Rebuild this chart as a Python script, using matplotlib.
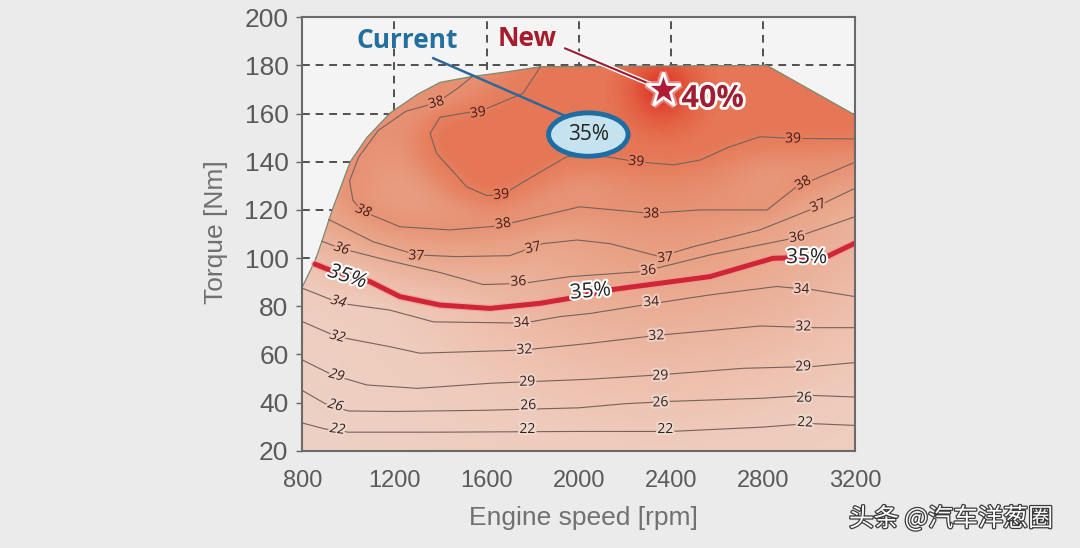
import matplotlib
matplotlib.use("Agg")
import matplotlib.pyplot as plt, numpy as np
from matplotlib import font_manager, patheffects as pe
from matplotlib.colors import LinearSegmentedColormap, Normalize
from matplotlib.patches import Polygon, Ellipse
from matplotlib.path import Path

# full load curve (rpm, Nm)
wot_rpm = [800, 856, 887, 930, 1008, 1080, 1182, 1300, 1399, 1530, 1700, 1833, 2818, 3200]
wot_tq = [88, 99, 107.5, 120, 140, 150, 160.3, 168, 173, 175.3, 177.5, 179.5, 180, 159.4]

# thermal efficiency contours, (rpm, Nm)
c22 = [(800, 31.5), (900, 29.0), (1000, 27.7), (1400, 27.7), (2000, 28.0), (2400, 28.0),
       (2800, 29.8), (3000, 31.3), (3200, 30.5)]
c26 = [(800, 45), (900, 39.5), (1000, 36.5), (1200, 36.3), (1600, 36.8), (2000, 37.8),
       (2200, 39.5), (2400, 40.5), (2800, 41.8), (3000, 43), (3200, 42.3)]
c29 = [(800, 57.7), (930, 51.5), (1080, 47.3), (1300, 45.9), (1615, 48), (2050, 49.7),
       (2350, 51.5), (2710, 54.2), (3020, 55), (3200, 56.6)]
c32 = [(800, 73.6), (950, 67.4), (1180, 63.2), (1310, 60.5), (1760, 61.8), (2050, 64.6),
       (2350, 68), (2790, 71.8), (3020, 71.1), (3200, 71.1)]
c34 = [(800, 87.5), (965, 81.2), (1180, 78.4), (1370, 73.5), (1760, 73), (1920, 75.7),
       (2050, 77), (2280, 80.5), (2570, 84.7), (2860, 88.2), (3020, 86.8), (3200, 84)]
c35 = [(855, 97.5), (920, 95), (1094, 90.2), (1224, 84), (1398, 80.5), (1615, 79.1),
       (1832, 81.2), (1962, 83.3), (2136, 86.8), (2570, 92.3), (2843, 99.9), (3078, 100.6),
       (3200, 106.2)]
c36 = [(885, 107), (964, 104.1), (1181, 98.8), (1398, 94), (1585, 89), (1758, 89.5),
       (1962, 92.3), (2279, 94.4), (2570, 101.3), (2930, 108.2), (3200, 117.2)]
c37 = [(915, 116), (1107, 106.8), (1297, 101.3), (1470, 100.6), (1700, 101), (1845, 106),
       (1993, 107.5), (2136, 106), (2353, 100.6), (2496, 104.7), (2787, 111.7), (3004, 120),
       (3200, 129)]
c38 = [(1545, 176), (1475, 170.5), (1383, 164.5), (1250, 161), (1130, 153), (1045, 142),
       (1005, 132), (1020, 124), (1060, 119.5), (1224, 113), (1441, 111.7), (1650, 113.3),
       (2005, 121.3), (2309, 118.6), (2527, 120), (2818, 120), (2946, 129.6), (3200, 139.8)]
c39 = [(1833, 179.3), (1758, 168.4), (1585, 161.5), (1480, 159.8), (1398, 158.5),
       (1355, 151.8), (1383, 143.5), (1514, 129.6), (1600, 126), (1666, 126.2),
       (1774, 132.4), (1948, 142.1), (2122, 142.1), (2252, 140), (2411, 138.7),
       (2527, 140.7), (2650, 146), (2787, 150.4), (2931, 149.7), (3200, 149.5)]
contours = {22: c22, 26: c26, 29: c29, 32: c32, 34: c34, 35: c35,
            36: c36, 37: c37, 38: c38, 39: c39}

# best point of the new engine
peak_rpm, peak_tq, peak_eff = 2367, 169.8, 40
# "current" best point marker (ellipse)
cur_rpm, cur_tq = 2042, 151.3

xticks = [800, 1200, 1600, 2000, 2400, 2800, 3200]
yticks = [20, 40, 60, 80, 100, 120, 140, 160, 180, 200]

# ---- colours
eff_nodes = [22, 26, 29, 32, 34, 35, 36, 37, 38, 39, 39.5, 40]
eff_cols = ['#eadacf', '#ead7cc', '#ebd4c8', '#edd0c3', '#efcbbc', '#eec0ae', '#ebb29b',
            '#e9a488', '#e79274', '#e67d5c', '#e35e41', '#dc2a24']
cmap = LinearSegmentedColormap.from_list(
    'eff', [((v - 22) / 18, c) for v, c in zip(eff_nodes, eff_cols)])
norm = Normalize(22, 40)

names = {f.name for f in font_manager.fontManager.ttflist}
narrow = 'Liberation Sans Narrow' if 'Liberation Sans Narrow' in names else 'Liberation Sans'
annot = 'Open Sans' if 'Open Sans' in names else 'DejaVu Sans'

fig = plt.figure(figsize=(10.8, 5.48), dpi=100, facecolor='#ebebeb')
ax = fig.add_axes([302.3 / 1080, 1 - 450.7 / 548, 552.7 / 1080, 433.4 / 548])
ax.set_facecolor('#f4f4f4')
ax.set_xlim(800, 3200)
ax.set_ylim(20, 200)

# dashed grid (the map covers the part inside the full load curve)
for t in [100, 120, 140, 160, 180]:
    ax.axhline(t, color='#505050', lw=1.4, ls=(0, (4, 3)), zorder=1)
for r in [1200, 1600, 2000, 2400, 2800]:
    ax.axvline(r, color='#505050', lw=1.4, ls=(0, (4, 3)), zorder=1)

# ---- background shading, inverse distance blend of the contour levels
def to_px(r, t):
    return (np.asarray(r, float) - 800) * 0.2303, (np.asarray(t, float) - 20) * 2.408

su, sv, sval = [], [], []
for lev, pts in contours.items():
    r, t = np.array(pts).T
    u, v = to_px(r, t)
    s = np.concatenate([[0], np.cumsum(np.hypot(np.diff(u), np.diff(v)))])
    ss = np.arange(0, s[-1], 5.0)
    su.append(np.interp(ss, s, u))
    sv.append(np.interp(ss, s, v))
    sval.append(np.full(ss.size, float(lev)))
su, sv, sval = np.concatenate(su), np.concatenate(sv), np.concatenate(sval)

gr = np.linspace(800, 3200, 241)
gt = np.linspace(20, 200, 181)
gu, gv = to_px(gr, gt)
pu, pv = to_px(peak_rpm, peak_tq)
field = np.empty((gt.size, gr.size))
for i, v in enumerate(gv):
    d2 = (gu[:, None] - su[None, :]) ** 2 + (v - sv[None, :]) ** 2 + 4.0
    w = 1.0 / d2 ** 1.5
    row = (w * sval).sum(1) / w.sum(1)
    # hot spot around the 40 % point
    dp = np.hypot(gu - pu, v - pv)
    field[i] = np.maximum(row, peak_eff - 1.7 * dp / 100)

# everything enclosed by the 39 line (and the full load curve) is above 39
top39 = Path(c39 + [(3200, 159.4), (3200, 200), (1833, 200)])
GR, GT = np.meshgrid(gr, gt)
inside = top39.contains_points(np.column_stack([GR.ravel(), GT.ravel()])).reshape(GR.shape)
field[inside] = np.maximum(field[inside], 39.05)

# soften the bands (separable gaussian)
def blur(a, sig, axis):
    k = np.arange(-3 * int(sig) - 1, 3 * int(sig) + 2)
    k = np.exp(-0.5 * (k / sig) ** 2)
    k /= k.sum()
    pad = len(k) // 2
    a = np.moveaxis(a, axis, -1)
    ap = np.concatenate([np.repeat(a[..., :1], pad, -1), a, np.repeat(a[..., -1:], pad, -1)], -1)
    out = np.apply_along_axis(lambda x: np.convolve(x, k, mode='valid'), -1, ap)
    return np.moveaxis(out, -1, axis)

field = blur(blur(field, 3.5, 1), 3.0, 0)

im = ax.imshow(field, origin='lower', extent=[800, 3200, 20, 200], aspect='auto',
               cmap=cmap, norm=norm, interpolation='bicubic', zorder=2)
clip = Polygon(list(zip(wot_rpm, wot_tq)) + [(3200, 20), (800, 20)], closed=True,
               transform=ax.transData)
im.set_clip_path(clip)
ax.plot(wot_rpm, wot_tq, color='#7d8a72', lw=0.9, zorder=3)

# ---- contour lines
for lev, pts in contours.items():
    r, t = np.array(pts).T
    if lev == 35:
        ax.plot(r, t, color='#d02534', lw=3.6, zorder=4, solid_capstyle='round',
                path_effects=[pe.Stroke(linewidth=5.5, foreground='#eb9a9a', alpha=0.6),
                              pe.Normal()])
    else:
        ax.plot(r, t, color='#75625c', lw=0.8, zorder=3)

# contour labels: (text, rpm, Nm, rotation, italic)
labels = [
    ('38', 1064, 119.5, -22, True), ('36', 970, 103.8, -18, True), ('34', 956, 81.8, -15, True),
    ('32', 952, 67.3, -15, True), ('29', 948, 51.2, -15, True), ('26', 943, 38.7, -15, True),
    ('22', 952, 28.8, -8, True),
    ('38', 1382, 164.4, 15, False), ('39', 1563, 160.2, 8, False), ('39', 1664, 126.2, 5, False),
    ('39', 2250, 140, -5, False), ('39', 2931, 149.5, 0, False), ('38', 1672, 114.1, 8, False),
    ('38', 2315, 118.3, 0, False), ('38', 2975, 131, 28, False), ('37', 1295, 100.8, -3, False),
    ('37', 1802, 104.1, 12, False), ('37', 2376, 100, 5, False), ('37', 3040, 121.6, 22, False),
    ('36', 1738, 90.1, 3, False), ('36', 2302, 94.7, 5, False), ('36', 2948, 108.5, 8, False),
    ('34', 1751, 73, 3, False), ('34', 2315, 81.6, 3, False), ('34', 2967, 86.9, -3, False),
    ('32', 1764, 61.8, 3, False), ('32', 2337, 67.6, 3, False), ('32', 2975, 71.4, 0, False),
    ('29', 1777, 48.5, 2, False), ('29', 2355, 51, 2, False), ('29', 2975, 54.8, 3, False),
    ('26', 1781, 38.7, 2, False), ('26', 2355, 39.9, 2, False), ('26', 2979, 41.8, 0, False),
    ('22', 1777, 28.8, 0, False), ('22', 2376, 28.8, 0, False), ('22', 2983, 31.6, -3, False),
]
for txt, r, t, rot, it in labels:
    bg = cmap(norm(float(txt)))
    ax.text(r, t, txt, fontsize=10, color='#3c1c1c', family=annot, ha='center', va='center',
            rotation=rot, style='italic' if it else 'normal', zorder=5,
            path_effects=[pe.withStroke(linewidth=3, foreground=bg)])

for r, t, rot, it in [(995, 92.2, -18, True), (2051, 86.1, 5, False), (2990, 100.2, 0, False)]:
    ax.text(r, t, '35%', fontsize=15, color='#262626', family=annot, ha='center', va='center',
            rotation=rot, style='italic' if it else 'normal', zorder=6,
            path_effects=[pe.withStroke(linewidth=3, foreground='white')])

# ---- current / new annotations
ax.plot([1369, 1933], [183, 159.4], color='#2f6898', lw=1.8, zorder=6)
ax.add_patch(Ellipse((cur_rpm, cur_tq), 345, 18, facecolor='#c5e3ef', edgecolor='#1e6ea3',
                     lw=3.5, zorder=7))
ax.text(cur_rpm, cur_tq, '35%', fontsize=15, color='#222222', family=annot,
        ha='center', va='center', zorder=8)
ax.text(1255, 190.2, 'Current', fontsize=19, fontweight='bold', color='#23709e', family=annot,
        ha='center', va='center', zorder=8)

ax.plot([1941, 2302], [187.1, 172.6], color='#9c1b30', lw=1.5, zorder=6,
        path_effects=[pe.Stroke(linewidth=3.5, foreground='white'), pe.Normal()])
ax.text(1776, 191, 'New', fontsize=19, fontweight='bold', color='#a51d2d', family=annot,
        ha='center', va='center', zorder=8)
ax.plot([peak_rpm], [peak_tq], marker='*', ms=26, mfc='#b01c35', mec='white', mew=2, zorder=8,
        path_effects=[pe.Stroke(linewidth=5, foreground='#f2b0b0', alpha=0.6), pe.Normal()])
ax.text(2582, 166.1, '40%', fontsize=22, fontweight='bold', color='#a01e33', family=annot,
        ha='center', va='center', zorder=8,
        path_effects=[pe.withStroke(linewidth=4, foreground='white')])

# ---- axes styling
for s in ax.spines.values():
    s.set_color('#6a6a6a')
    s.set_linewidth(1.5)
    s.set_zorder(9)
ax.set_xticks(xticks)
ax.set_yticks(yticks)
ax.tick_params(axis='y', length=4, width=1, color='#666666', pad=6, labelsize=19,
               labelcolor='#5a5a5a')
ax.tick_params(axis='x', length=0, pad=14, labelsize=17, labelcolor='#5a5a5a')
for lb in ax.get_yticklabels():
    lb.set_family('Liberation Sans')
for lb in ax.get_xticklabels():
    lb.set_family(narrow)

fig.text(216 / 1080, 1 - 232 / 548, 'Torque [Nm]', rotation=90, fontsize=19, color='#707070',
         family='Liberation Sans', ha='center', va='center')
fig.text(583 / 1080, 1 - 518 / 548, 'Engine speed [rpm]', fontsize=19, color='#707070',
         family='Liberation Sans', ha='center', va='center')
fig.text(951 / 1080, 1 - 519 / 548, '头条 @汽车洋葱圈', fontsize=18, color='white',
         family=['Noto Sans CJK SC', 'DejaVu Sans'], ha='center', va='center',
         path_effects=[pe.withStroke(linewidth=1.8, foreground='#3a3a3a')])

fig.savefig('out.png', dpi=100, facecolor=fig.get_facecolor())
